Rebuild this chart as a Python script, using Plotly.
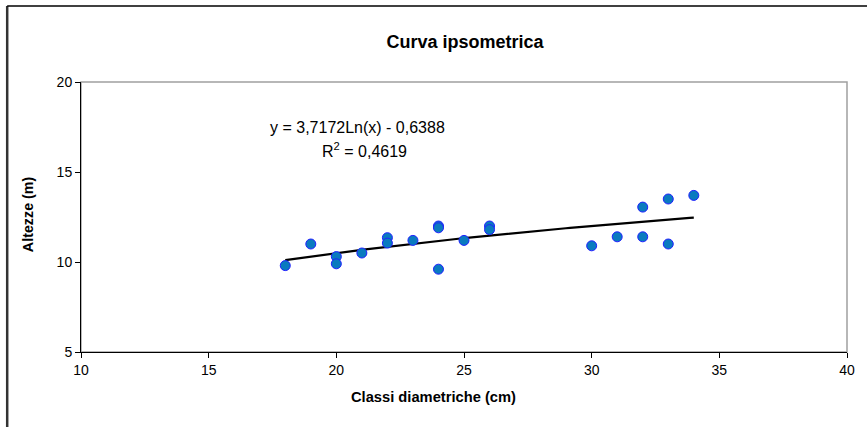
import numpy as np
import plotly.graph_objects as go

# Data
diametri = [18, 19, 20, 20, 21, 22, 22, 23, 24, 24, 24, 25, 26, 26, 30, 31, 32, 32, 33, 33, 34]
altezze = [9.8, 11.0, 10.3, 9.9, 10.5, 11.35, 11.05, 11.2, 12.0, 11.9, 9.6, 11.2, 12.0, 11.8, 10.9, 11.4, 13.05, 11.4, 13.5, 11.0, 13.7]

# Logarithmic trendline coefficients shown on the chart
coef_a = 3.7172
coef_b = -0.6388
trend_x = np.linspace(min(diametri), max(diametri), 100)
trend_y = coef_a * np.log(trend_x) + coef_b

x_ticks = [10, 15, 20, 25, 30, 35, 40]
y_ticks = [5, 10, 15, 20]

FONT = "Liberation Sans, Arial, sans-serif"

fig = go.Figure()
fig.add_trace(go.Scatter(
    x=trend_x, y=trend_y, mode="lines",
    line=dict(color="black", width=2.2), hoverinfo="skip", showlegend=False))
fig.add_trace(go.Scatter(
    x=diametri, y=altezze, mode="markers",
    marker=dict(size=10, color="#0A7ABF", line=dict(color="#2020FF", width=1)),
    showlegend=False))

W, H = 867, 427
ml, mr, mt, mb = 81, 18, 82, 75
pw, ph = W - ml - mr, H - mt - mb

def px_x(p):
    return (p - ml) / pw

def px_y(p):
    return 1 - (p - mt) / ph

fig.update_layout(
    width=W, height=H,
    margin=dict(l=ml, r=mr, t=mt, b=mb),
    paper_bgcolor="white", plot_bgcolor="white",
    font=dict(family=FONT, size=14, color="black"),
    title=dict(text="<b>Curva ipsometrica</b>", x=(ml + pw / 2) / W, xanchor="center",
               y=1 - 42 / H, yanchor="middle", font=dict(size=18, family=FONT)),
    xaxis=dict(range=[10, 40], tickvals=x_ticks, showgrid=False, zeroline=False,
               showline=True, linecolor="black", linewidth=1,
               ticks="outside", ticklen=5, tickcolor="black",
               tickfont=dict(size=14, family=FONT)),
    yaxis=dict(range=[5, 20], tickvals=y_ticks, showgrid=False, zeroline=False,
               showline=True, linecolor="black", linewidth=1,
               ticks="outside", ticklen=5, tickcolor="black",
               tickfont=dict(size=14, family=FONT)),
    shapes=[
        dict(type="rect", xref="paper", yref="paper", x0=0, x1=1, y0=0, y1=1,
             line=dict(color="#A0A0A0", width=1.5), layer="below"),
        dict(type="line", xref="paper", yref="paper",
             x0=px_x(7), x1=px_x(7), y0=px_y(6), y1=px_y(440),
             line=dict(color="#333333", width=2.5)),
        dict(type="line", xref="paper", yref="paper",
             x0=px_x(7), x1=px_x(880), y0=px_y(6), y1=px_y(6),
             line=dict(color="black", width=1.5)),
    ],
    annotations=[
        dict(text="<b>Classi diametriche (cm)</b>", x=px_x(434), y=px_y(397),
             xref="paper", yref="paper", showarrow=False,
             xanchor="center", yanchor="middle", font=dict(size=14.7, family=FONT)),
        dict(text="<b>Altezze (m)</b>", x=px_x(28), y=px_y(214),
             xref="paper", yref="paper", showarrow=False, textangle=-90,
             xanchor="center", yanchor="middle", font=dict(size=14.3, family=FONT)),
        dict(text="y = 3,7172Ln(x) - 0,6388", x=20.82, y=17.49, xref="x", yref="y",
             showarrow=False, xanchor="center", yanchor="middle",
             font=dict(size=16, family=FONT)),
        dict(text="R<sup>2</sup> = 0,4619", x=21.1, y=16.2, xref="x", yref="y",
             showarrow=False, xanchor="center", yanchor="middle",
             font=dict(size=16, family=FONT)),
    ],
)

fig.write_html("out.html", config={"displayModeBar": False},
               post_script="document.body.style.margin='0px';document.body.style.overflow='hidden';")
